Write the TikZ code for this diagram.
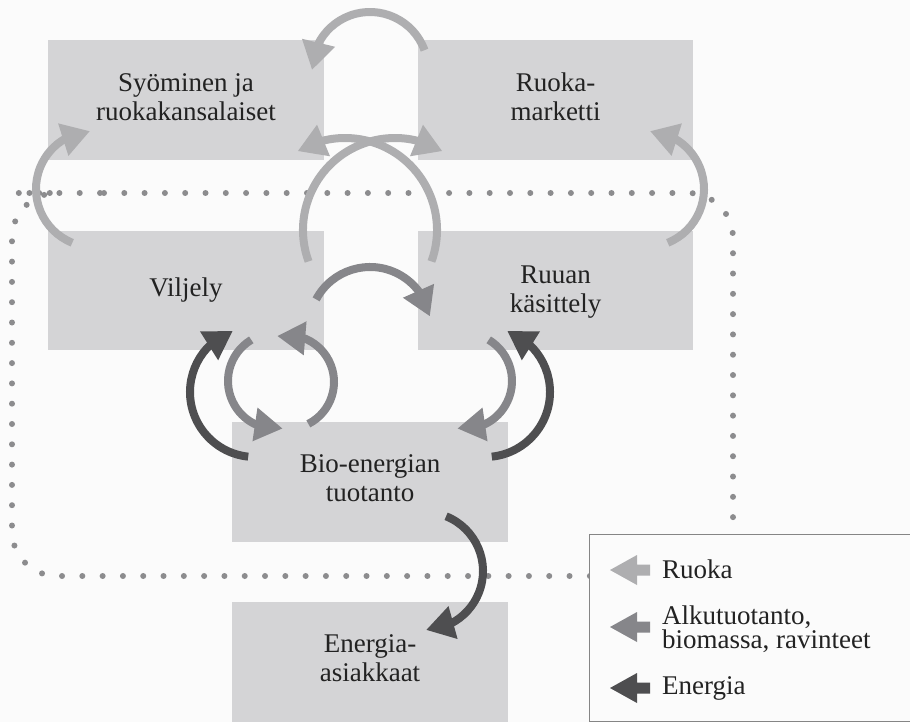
\documentclass[tikz,border=0pt]{standalone}
\usepackage{fontspec}
\setmainfont{Liberation Serif}
\usetikzlibrary{arrows.meta,bending}
\definecolor{bgc}{HTML}{FBFBFB}
\definecolor{boxc}{HTML}{D4D4D6}
\definecolor{lightc}{HTML}{AEAEB0}
\definecolor{medc}{HTML}{86868A}
\definecolor{darkc}{HTML}{4E4E50}
\definecolor{dotc}{HTML}{8C8C8E}
\definecolor{txtc}{HTML}{222222}
\definecolor{framec}{HTML}{858585}
\begin{document}
\begin{tikzpicture}[x=1pt,y=-1pt,
  box/.style={fill=boxc, draw=none, inner sep=0pt, minimum width=276pt, minimum height=120pt},
  lbl/.style={text=txtc, align=center, font=\fontsize{27}{29}\selectfont, inner sep=0pt},
  leg/.style={text=txtc, align=left, font=\fontsize{27}{24}\selectfont, inner sep=0pt},
  band/.style={line width=8pt, -{Triangle[length=28pt,width=32pt]}},
  dotline/.style={dotc, line width=6pt, line cap=round, dash pattern=on 0pt off 20.3pt, rounded corners=45pt}
]
\useasboundingbox (0,0) rectangle (910,722);
\fill[bgc] (0,0) rectangle (910,722);

% boxes
\node[box] (eat) at (186,100) {};
\node[box, minimum width=275pt] (market) at (555.5,100) {};
\node[box, minimum height=119pt] (farm) at (186,290.5) {};
\node[box, minimum width=275pt, minimum height=119pt] (proc) at (555.5,290.5) {};
\node[box] (bio) at (370,482) {};
\node[box] (cust) at (370,662) {};

% labels
\node[lbl] (eatT) at (eat.center |- 0,97) {Syöminen ja\\ruokakansalaiset};
\node[lbl] (marketT) at (market.center |- 0,97) {Ruoka-\\marketti};
\node[lbl] (farmT) at (farm.center) {Viljely};
\node[lbl] (procT) at (proc.center |- 0,292.5) {Ruuan\\käsittely};
\node[lbl] (bioT) at (bio.center |- 0,478.5) {Bio-energian\\tuotanto};
\node[lbl] (custT) at (cust.center |- 0,658.5) {Energia-\\asiakkaat};

% dotted boundary
\coordinate (d0) at (59,193);
\coordinate (d1) at (733,193);
\coordinate (d2) at (733,576);
\coordinate (d3) at (12,576);
\coordinate (d4) at (12,193);
\draw[dotline] (d0) -- (d1) -- (d2) -- (d3) -- (d4) -- cycle;

% arc start points
\path (370,70) ++(-20:58) coordinate (a1);
\path (395,230) ++(160:92) coordinate (a2);
\path (345,230) ++(20:92) coordinate (a3);
\path (94,189) ++(112:58) coordinate (a4);
\path (646,189) ++(68:58) coordinate (a5);
\path (370,328) ++(208:61) coordinate (a6);
\path (255,392) ++(96:65) coordinate (a7);
\path (276,381) ++(239:48) coordinate (a8);
\path (287,382) ++(63:47) coordinate (a9);
\path (464,381) ++(-59:48) coordinate (a10);
\path (485,392) ++(84:65) coordinate (a11);
\path (424,571) ++(-68:59) coordinate (a12);

% Ruoka (light) flows
\draw[band, lightc] (a1) arc[start angle=-20, end angle=-180, radius=58];
\draw[band, lightc] (a2) arc[start angle=160, end angle=301, radius=92];
\draw[band, lightc] (a3) arc[start angle=20, end angle=-121, radius=92];
\draw[band, lightc] (a4) arc[start angle=112, end angle=266, radius=58];
\draw[band, lightc] (a5) arc[start angle=68, end angle=-86, radius=58];

% Alkutuotanto (medium) flows
\draw[band, medc] (a6) arc[start angle=208, end angle=349, radius=61];
\draw[band, medc] (a8) arc[start angle=239, end angle=82, radius=48];
\draw[band, medc] (a9) arc[start angle=63, end angle=-102, radius=47];
\draw[band, medc] (a10) arc[start angle=-59, end angle=98, radius=48];

% Energia (dark) flows
\draw[band, darkc] (a7) arc[start angle=96, end angle=250, radius=65];
\draw[band, darkc] (a11) arc[start angle=84, end angle=-70, radius=65];
\draw[band, darkc] (a12) arc[start angle=-68, end angle=88, radius=59];

% legend
\draw[framec, line width=1.5pt, fill=bgc] (589.5,534.5) rectangle (913,721.5);
\fill[lightc] (650,564.5) -- (637,564.5) -- (637,555) -- (610,570) -- (637,585) -- (637,575.5) -- (650,575.5) -- cycle;
\fill[medc] (650,621.5) -- (637,621.5) -- (637,612) -- (610,627) -- (637,642) -- (637,632.5) -- (650,632.5) -- cycle;
\fill[darkc] (650,682.5) -- (637,682.5) -- (637,673) -- (610,688) -- (637,703) -- (637,693.5) -- (650,693.5) -- cycle;
\node[leg, anchor=base west] (l1) at (662,578) {Ruoka};
\node[leg, anchor=west] (l2) at (662,629.2) {Alkutuotanto,\\biomassa, ravinteet};
\node[leg, anchor=base west] (l3) at (662,694) {Energia};
\end{tikzpicture}
\end{document}
